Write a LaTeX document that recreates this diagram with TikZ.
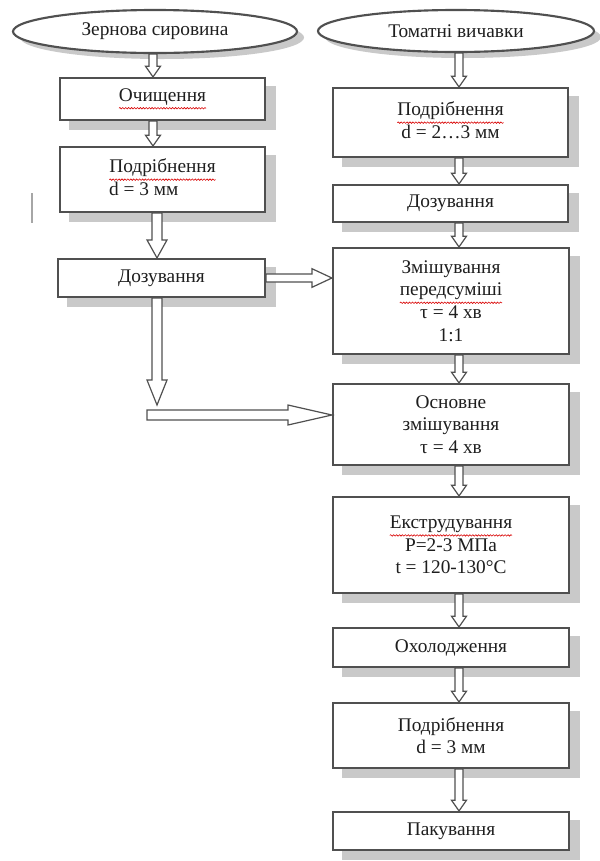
\documentclass[tikz,border=0pt]{standalone}
\usepackage{fontspec}
\setmainfont{Liberation Serif}
\usetikzlibrary{shapes.geometric,calc,backgrounds,decorations.pathmorphing}
\definecolor{edge}{HTML}{505050}
\definecolor{shad}{HTML}{C9C9C9}
\definecolor{txt}{HTML}{1E1E1E}
% red wavy spell-check underline
\newcommand\sq[1]{\tikz[baseline=(w.base)]{\node[shape=rectangle,draw=none,fill=none,inner sep=0pt,outer sep=0pt,minimum width=0pt,minimum height=0pt](w){#1};\draw[red!85!black,line width=0.45pt,decorate,decoration={snake,amplitude=0.55pt,segment length=2.2pt}] ([yshift=-2pt]w.south west)--([yshift=-2pt]w.south east);}}
% vertical hollow arrow: #1 x-ref, #2 from, #3 to, #4 shaft half, #5 head half, #6 head length
\newcommand\varr[6]{\draw[harr] let \p1=(#2 -| #1), \p2=(#3 -| #1) in (\x1-#4,\y1) -- (\x1-#4,\y2+#6) -- (\x1-#5,\y2+#6) -- (\x1,\y2) -- (\x1+#5,\y2+#6) -- (\x1+#4,\y2+#6) -- (\x1+#4,\y1) -- cycle;}
% horizontal hollow arrow: #1 from, #2 target x-ref, #3 shaft half, #4 head half, #5 head length
\newcommand\harrow[5]{\draw[harr] let \p1=(#1), \p2=(#1 -| #2) in (\x1,\y1+#3) -- (\x2-#5,\y1+#3) -- (\x2-#5,\y1+#4) -- (\x2,\y1) -- (\x2-#5,\y1-#4) -- (\x2-#5,\y1-#3) -- (\x1,\y1-#3) -- cycle;}
\begin{document}
\begin{tikzpicture}[x=0.75pt,y=-0.75pt,
  box/.style={draw=edge,line width=1.6pt,fill=white,shape=rectangle,inner sep=2pt,align=center,text=txt,font=\fontsize{14.5}{17}\selectfont},
  oval/.style={draw=edge,line width=1.6pt,fill=white,shape=ellipse,inner sep=0pt,text=txt,font=\fontsize{14.5}{17}\selectfont},
  harr/.style={draw=edge,line width=0.9pt,fill=white,line join=miter}]
\useasboundingbox (0,0) rectangle (600,861);

% source ovals
\node[oval,minimum width=213pt,minimum height=32.25pt] (ell1) at (155,31.5) {Зернова сировина};
\node[oval,minimum width=207pt,minimum height=31.5pt] (ell2) at (456,31) {Томатні вичавки};

% left column
\node[box,minimum width=153.75pt,minimum height=31.5pt] (ochy) at (162.5,99) {\sq{Очищення}};
\node[box,minimum width=153.75pt,minimum height=48.75pt] (podl) at (162.5,179.5) {\raisebox{-5pt}{\begin{tabular}{@{}l@{}}\sq{Подрібнення}\\[-1pt] d = 3 мм\end{tabular}}};
\node[box,minimum width=155.25pt,minimum height=28.5pt] (dozl) at (161.5,278) {Дозування};

% right column
\node[box,minimum width=176.25pt,minimum height=51.75pt] (podr) at (450.5,122.5) {\raisebox{-3pt}{\begin{tabular}{@{}c@{}}\sq{Подрібнення}\\[-1pt] d = 2…3 мм\end{tabular}}};
\node[box,minimum width=176.25pt,minimum height=27.75pt] (dozr) at (450.5,203.5) {Дозування};
\node[box,minimum width=177pt,minimum height=79.5pt] (zmish) at (451,301) {Змішування\\\sq{передсуміші}\\τ = 4 хв\\1:1};
\node[box,minimum width=177pt,minimum height=60.75pt] (osn) at (451,424.5) {Основне\\змішування\\τ = 4 хв};
\node[box,minimum width=177pt,minimum height=72pt] (ekstr) at (451,545) {\sq{Екструдування}\\P=2-3 МПа\\t = 120-130°C};
\node[box,minimum width=177pt,minimum height=29.25pt] (okhol) at (451,647.5) {Охолодження};
\node[box,minimum width=177pt,minimum height=48.75pt] (podr2) at (451,735.5) {Подрібнення\\d = 3 мм};
\node[box,minimum width=177pt,minimum height=28.5pt] (pak) at (451,831) {Пакування};

% reference coordinates for arrow axes
\coordinate (lx) at (153,0);
\coordinate (bx) at (157,0);
\coordinate (rx) at (459,0);
\coordinate (bend) at (157,405);
\coordinate (hstart) at (147,415);

% shadows and background
\begin{scope}[on background layer]
\fill[white] (0,0) rectangle (600,861);
\foreach \n in {ochy,podl,dozl,podr,dozr,zmish,osn,ekstr,okhol,podr2,pak}
  \fill[shad] ($(\n.south west)+(10,9)$) rectangle ($(\n.north east)+(10,9)$);
\fill[shad] ($(ell1.center)+(7,6)$) ellipse [x radius=142, y radius=21.5];
\fill[shad] ($(ell2.center)+(7,6)$) ellipse [x radius=138, y radius=21];
\end{scope}

% stray cursor mark
\draw[gray!70,line width=0.9pt] (32,193) -- (32,223);

% connectors
\varr{lx}{ell1.south}{ochy.north}{3pt}{5.6pt}{8pt}
\varr{lx}{ochy.south}{podl.north}{3pt}{5.6pt}{8pt}
\varr{bx}{podl.south}{dozl.north}{3.75pt}{7.5pt}{13.5pt}
\varr{bx}{dozl.south}{bend}{3.75pt}{7.5pt}{18.75pt}
\harrow{dozl.east}{zmish.west}{3pt}{7pt}{15pt}
\harrow{hstart}{osn.west}{3.75pt}{7.5pt}{33pt}
\varr{rx}{ell2.south}{podr.north}{3pt}{5.6pt}{8pt}
\varr{rx}{podr.south}{dozr.north}{3pt}{5.6pt}{8pt}
\varr{rx}{dozr.south}{zmish.north}{3pt}{5.6pt}{8pt}
\varr{rx}{zmish.south}{osn.north}{3pt}{5.6pt}{8pt}
\varr{rx}{osn.south}{ekstr.north}{3pt}{5.6pt}{8pt}
\varr{rx}{ekstr.south}{okhol.north}{3pt}{5.6pt}{8pt}
\varr{rx}{okhol.south}{podr2.north}{3pt}{5.6pt}{8pt}
\varr{rx}{podr2.south}{pak.north}{3pt}{5.6pt}{8pt}
\end{tikzpicture}
\end{document}
